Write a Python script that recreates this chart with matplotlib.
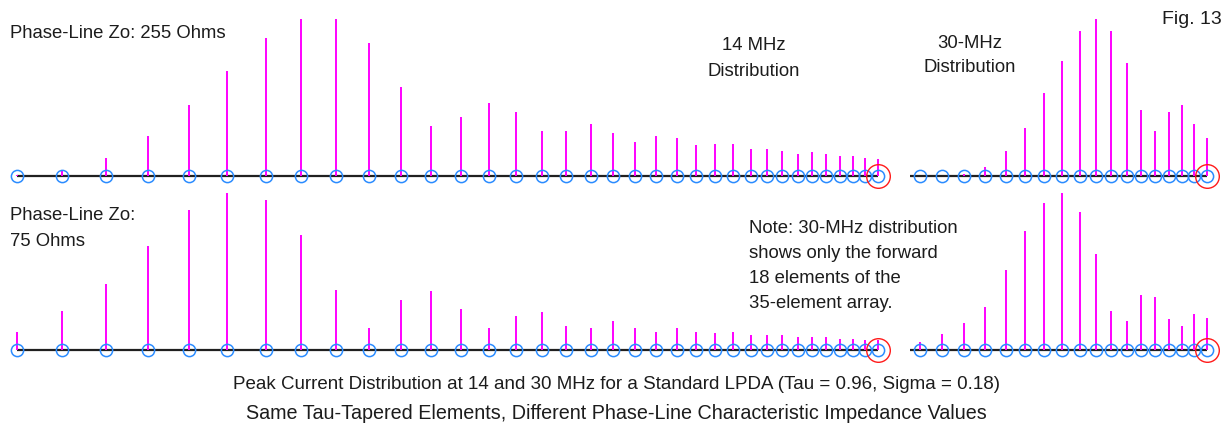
import numpy as np
import matplotlib.pyplot as plt

# element positions along the boom (rear element = 0), 35 tau-tapered elements
element_pos = [0, 45.5, 89, 131.5, 171.7, 210.3, 249, 284.5, 319, 352.5,
               384.3, 414.3, 444, 472, 498.7, 525, 549, 574, 596, 618,
               639, 659.7, 679.3, 698.3, 716, 733.7, 749.7, 765.3, 781.3, 795.3,
               809.3, 823.3, 835.7, 848.3, 860.7]

# relative peak current (%) per element
cur_14_255 = [0.6, 3.2, 11.6, 25.2, 45.1, 66.6, 87.7, 100, 100, 84.6,
              56.4, 31.8, 37.5, 46.4, 40.7, 28.4, 28.4, 32.9, 27.3, 21.8,
              25.2, 24.0, 19.5, 20.5, 20.5, 17.4, 17.4, 16.1, 14.0, 15.1,
              14.0, 12.9, 12.9, 11.6, 10.6]
cur_30_255 = [0, 0, 1.3, 5.9, 16.1, 30.7, 53.0, 73.1, 92.2, 100,
              92.2, 72.0, 42.0, 28.4, 40.7, 45.1, 32.9, 24.0]
cur_14_75 = [11.4, 24.8, 41.5, 66.1, 88.6, 99.8, 95.4, 72.9, 38.1, 13.5,
             31.6, 37.1, 25.9, 13.5, 21.4, 23.7, 14.8, 13.5, 18.2, 13.5,
             11.4, 13.5, 11.4, 10.4, 11.4, 9.1, 9.1, 9.1, 8.1, 8.1,
             8.1, 7.0, 7.0, 5.9, 5.9]
cur_30_75 = [4.6, 10.2, 17.0, 27.1, 50.7, 75.2, 93.0, 99.8, 87.5, 60.6,
             24.8, 18.2, 35.0, 33.7, 19.3, 14.8, 22.7, 20.3]

n_fwd = 18  # 30 MHz panels: forward 18 elements only

plt.rcParams['font.family'] = ['Liberation Sans', 'DejaVu Sans']
W, H = 1231, 431
fig = plt.figure(figsize=(W / 100, H / 100), dpi=100)
PX = 1.573  # pixels per percent
TXT = '#1c1c1c'


def panel(left, right, x_at_left, base):
    bot = base + 20
    top = base - 175
    ax = fig.add_axes([left / W, 1 - bot / H, (right - left) / W, (bot - top) / H])
    ax.set_xlim(x_at_left, x_at_left + (right - left))
    ax.set_ylim(-(bot - base) / PX, (base - top) / PX)
    ax.axis('off')
    return ax


def draw(ax, x, y, line_from):
    x = np.array(x)
    ax.plot([line_from, x[-1]], [0, 0], color='#202020', lw=1.6,
            solid_capstyle='butt', clip_on=False, zorder=1)
    ax.vlines(x, 0, y, color='#ff00ff', lw=1.4, zorder=2)
    ax.plot(x, np.zeros(len(x)), 'o', mfc='none', mec='#2b8cff', ms=8.8,
            mew=1.1, zorder=3, clip_on=False)
    ax.plot(x[-1], 0, 'o', mfc='none', mec='#ff1a1a', ms=17, mew=1.0,
            zorder=4, clip_on=False)


pos = element_pos
fwd = pos[-n_fwd:]

for base, c14, c30 in [(177, cur_14_255, cur_30_255), (350.7, cur_14_75, cur_30_75)]:
    axl = panel(0, 895, -17, base)
    draw(axl, pos, c14, pos[0])
    axr = panel(895, W, fwd[0] - 25, base)
    draw(axr, fwd, c30, fwd[0] - 10)


def t(x, y, s, **kw):
    kw.setdefault('fontsize', 13.3)
    fig.text(x / W, 1 - y / H, s, color=TXT, va='center', **kw)


t(10, 33, 'Phase-Line Zo: 255 Ohms')
t(754, 46, '14 MHz', ha='center')
t(754, 72, 'Distribution', ha='center')
t(970, 44, '30-MHz', ha='center')
t(970, 68, 'Distribution', ha='center')
t(1222, 20, 'Fig. 13', ha='right', fontsize=14)
t(10, 216, 'Phase-Line Zo:')
t(10, 241, '75 Ohms')
note = ['Note: 30-MHz distribution', 'shows only the forward',
        '18 elements of the', '35-element array.']
for i, line in enumerate(note):
    t(749, 229 + i * 24.7, line)
t(616, 385, 'Peak Current Distribution at 14 and 30 MHz for a Standard LPDA (Tau = 0.96, Sigma = 0.18)',
  ha='center', fontsize=13.5)
t(616, 414, 'Same Tau-Tapered Elements, Different Phase-Line Characteristic Impedance Values',
  ha='center', fontsize=14.2)

fig.savefig('out.png', dpi=100)
